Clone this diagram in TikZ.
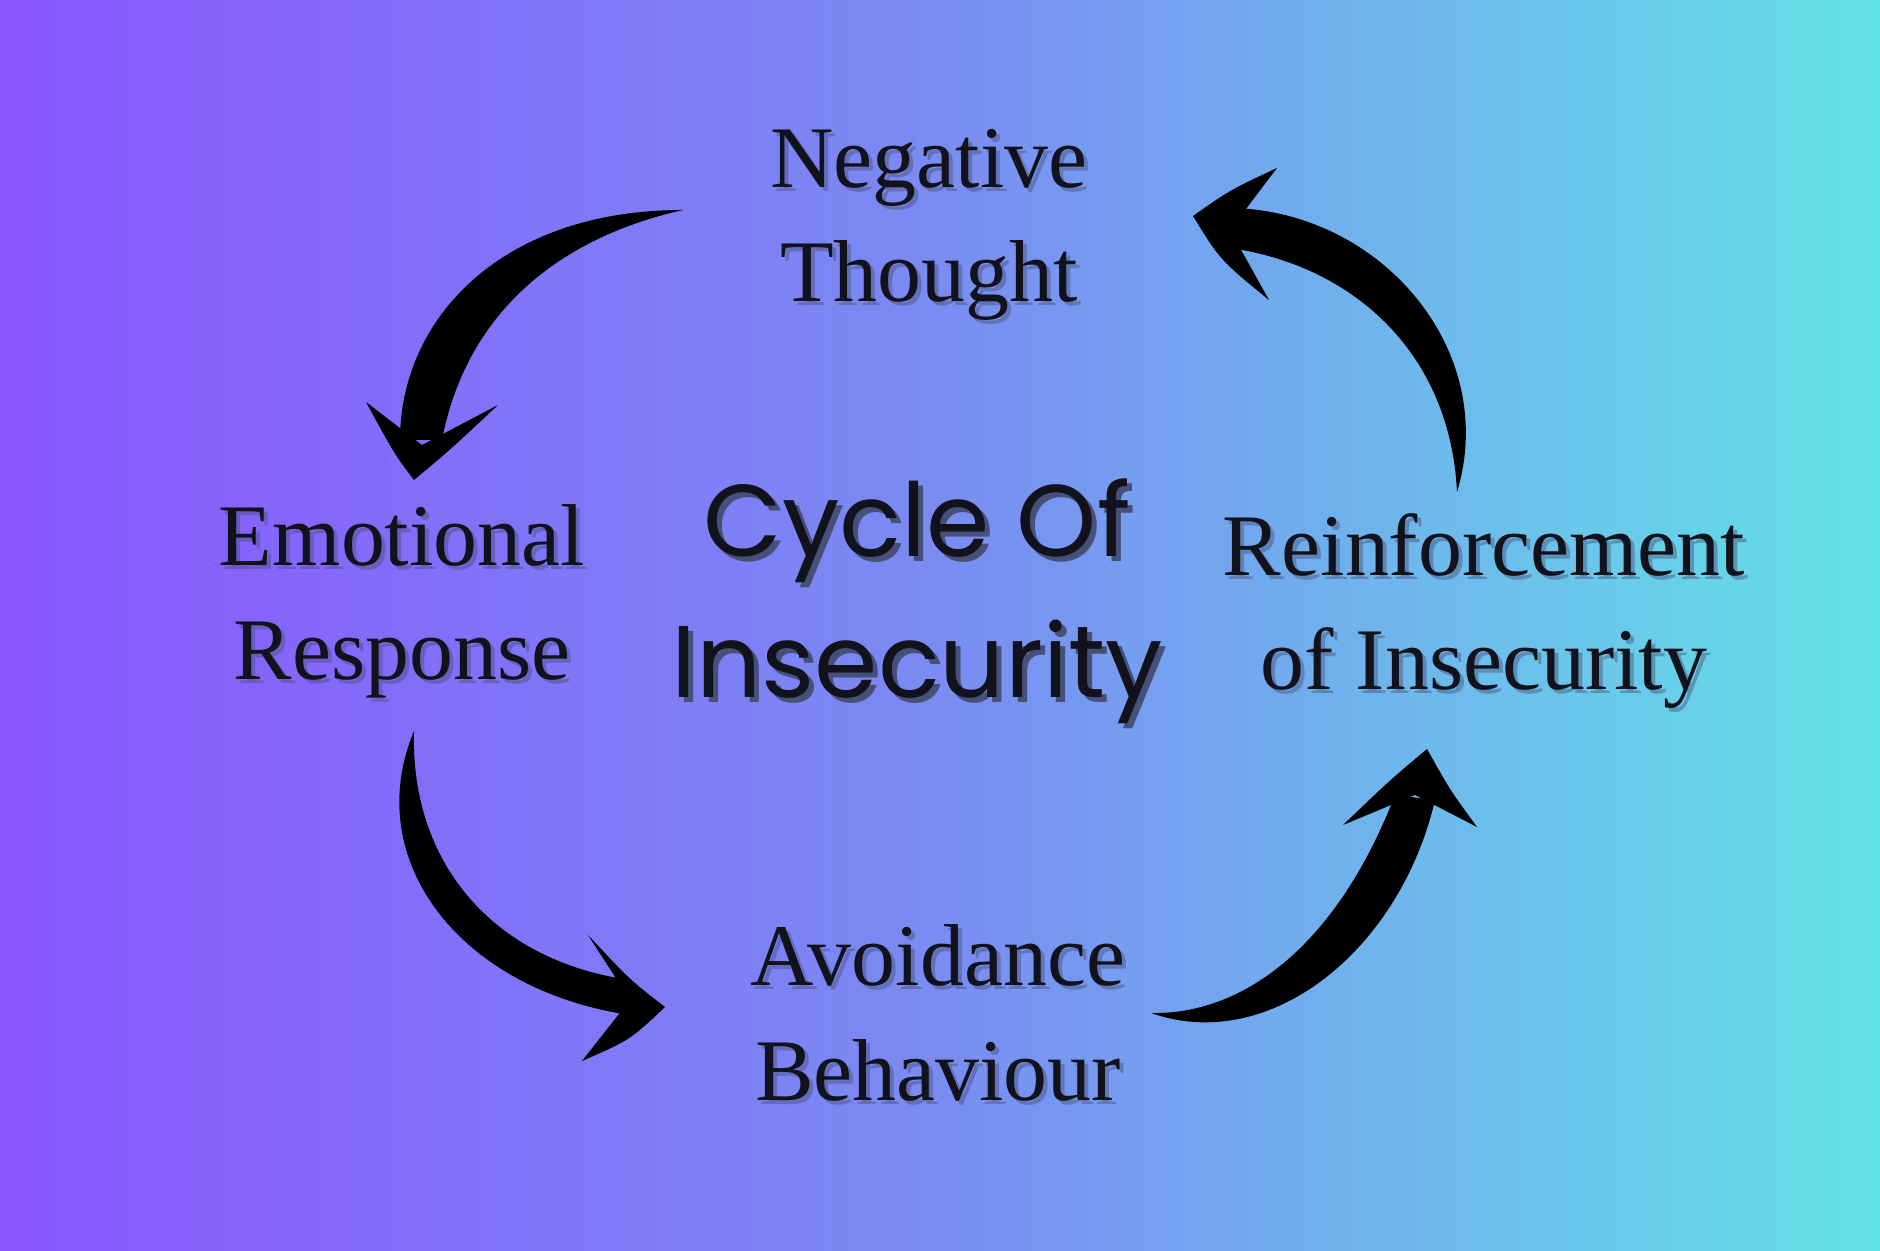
\documentclass[tikz,border=0pt]{standalone}
\usepackage{fontspec}
\setmainfont{Liberation Serif}
\newfontfamily\pop{Poppins}
\begin{document}
\begin{tikzpicture}
\definecolor{bgL}{RGB}{138,86,255}
\definecolor{bgM}{RGB}{122,140,242}
\definecolor{bgR}{RGB}{98,226,230}
\definecolor{ink}{RGB}{18,18,28}
\definecolor{shad}{RGB}{70,80,120}
\shade[left color=bgL,right color=bgR,middle color=bgM] (0,0) rectangle (18.8,12.5);
\useasboundingbox (0,0) rectangle (18.8,12.5);
\tikzset{
  lbl/.style={align=center,font=\fontsize{25}{32.5}\selectfont,text=ink},
  lblsh/.style={align=center,font=\fontsize{25}{32.5}\selectfont,text=shad,opacity=0.45},
  ttl/.style={align=center,font=\pop\fontsize{29}{40}\selectfont,text=ink},
  ttlsh/.style={align=center,font=\pop\fontsize{29}{40}\selectfont,text=shad},
  arr/.style={fill=black}
}
% shadows
\node[lblsh] at (9.33,10.21) {Negative\\Thought};
\node[lblsh] at (4.06,6.45) {Emotional\\Response};
\node[lblsh] at (14.88,6.35) {Reinforcement\\of Insecurity};
\node[lblsh] at (9.42,2.33) {Avoidance\\Behaviour};
\node[ttlsh] at (9.22,6.44) {Cycle Of\\Insecurity};
% labels
\node[lbl] (nt) at (9.29,10.25) {Negative\\Thought};
\node[lbl] (er) at (4.02,6.49) {Emotional\\Response};
\node[lbl] (ri) at (14.84,6.39) {Reinforcement\\of Insecurity};
\node[lbl] (ab) at (9.38,2.37) {Avoidance\\Behaviour};
\node[ttl] (c) at (9.17,6.49) {Cycle Of\\Insecurity};
% arrow 1
\fill[arr] (6.83,10.40) .. controls (5.0,10.4) and (4.0,9.3) .. (4.0,8.1) -- (4.42,8.1) .. controls (4.65,9.3) and (5.5,10.1) .. (6.83,10.40);
\fill[arr] (4.14,7.70) .. controls (3.95,7.95) .. (3.66,8.48) -- (4.22,8.05) -- (4.98,8.45) .. controls (4.5,8.0) .. (4.14,7.70);
% arrow 2
\fill[arr] (4.14,5.19) .. controls (3.6,3.9) and (4.6,2.6) .. (6.3,2.35) -- (6.3,2.7) .. controls (4.9,2.9) and (4.1,3.9) .. (4.14,5.19);
\fill[arr] (6.65,2.43) .. controls (6.3,2.7) .. (5.88,3.15) -- (6.3,2.5) -- (5.82,1.89) .. controls (6.3,2.1) .. (6.65,2.43);
% arrow 3
\fill[arr] (11.51,2.37) .. controls (12.7,1.95) and (14.0,3.0) .. (14.35,4.5) -- (13.95,4.55) .. controls (13.35,3.0) and (12.4,2.35) .. (11.51,2.37);
\fill[arr] (14.27,5.01) .. controls (13.9,4.7) .. (13.43,4.25) -- (14.15,4.55) -- (14.77,4.23) .. controls (14.5,4.6) .. (14.27,5.01);
% arrow 4
\fill[arr] (14.57,7.58) .. controls (15.0,9.0) and (13.8,10.4) .. (12.3,10.42) -- (12.3,10.02) .. controls (13.5,9.85) and (14.5,9.0) .. (14.57,7.58);
\fill[arr] (11.93,10.34) .. controls (12.3,10.6) .. (12.77,10.82) -- (12.3,10.2) -- (12.69,9.50) .. controls (12.2,9.9) .. (11.93,10.34);
\end{tikzpicture}
\end{document}
